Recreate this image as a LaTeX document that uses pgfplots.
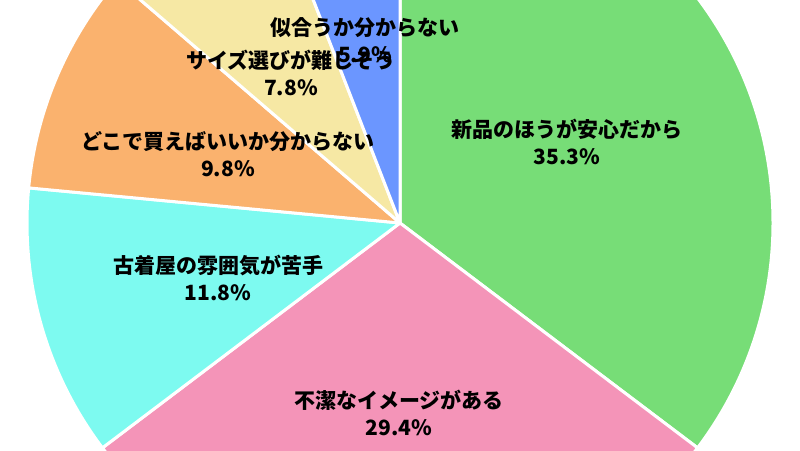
\documentclass[border=0pt]{standalone}
\usepackage{pgfplots}
\usepackage{pgfplotstable}
\pgfplotsset{compat=1.18}
\usepackage{fontspec}
\setmainfont{Noto Sans CJK JP}

\definecolor{pgreen}{RGB}{119,221,119}
\definecolor{ppink}{RGB}{244,148,184}
\definecolor{pcyan}{RGB}{125,250,240}
\definecolor{porange}{RGB}{250,178,110}
\definecolor{pyellow}{RGB}{246,232,164}
\definecolor{pblue}{RGB}{107,150,255}

% share of answers, clockwise from 12 o'clock
\pgfplotstableread{
value col
35.3 pgreen
29.4 ppink
11.8 pcyan
9.8 porange
7.8 pyellow
5.9 pblue
}\piedata

\begin{document}
\begin{tikzpicture}
\begin{axis}[
    hide axis,
    scale only axis,
    width=800pt, height=450pt,
    xmin=0, xmax=800, ymin=0, ymax=450,
    clip=true,
]
\pgfplotstablegetrowsof{\piedata}
\pgfmathtruncatemacro\nrows{\pgfplotsretval-1}
\def\cum{0}
\pgfplotsforeachungrouped \i in {0,...,\nrows}{%
  \pgfplotstablegetelem{\i}{value}\of\piedata \let\val\pgfplotsretval
  \pgfplotstablegetelem{\i}{col}\of\piedata \let\col\pgfplotsretval
  \pgfmathsetmacro\sa{90-3.6*\cum}
  \pgfmathsetmacro\ea{90-3.6*(\cum+\val)}
  \pgfmathsetmacro\cum{\cum+\val}
  \edef\temp{\noexpand\fill[fill=\col, draw=white, line width=3pt, line join=round]
    (axis cs:400,227) -- (axis cs:{400+373*cos(\sa)},{227+373*sin(\sa)})
    arc[start angle=\sa, end angle=\ea, radius=373pt] -- cycle;}
  \temp
}

\tikzset{lbl/.style={align=center, inner sep=0pt, text=black,
    font=\bfseries\fontsize{21}{27}\selectfont}}
\node[lbl] at (axis cs:567,308) {新品のほうが安心だから\\35.3\%};
\node[lbl] at (axis cs:399,37) {不潔なイメージがある\\29.4\%};
\node[lbl] at (axis cs:218,172) {古着屋の雰囲気が苦手\\11.8\%};
\node[lbl] at (axis cs:228,296) {どこで買えばいいか分からない\\9.8\%};
\node[lbl] at (axis cs:365,410) {似合うか分からない\\5.9\%};
\node[lbl] at (axis cs:291,377) {サイズ選びが難しそう\\7.8\%};
\end{axis}
\pgfresetboundingbox
\path[use as bounding box] (current axis.south west) rectangle (current axis.north east);
\end{tikzpicture}
\end{document}
